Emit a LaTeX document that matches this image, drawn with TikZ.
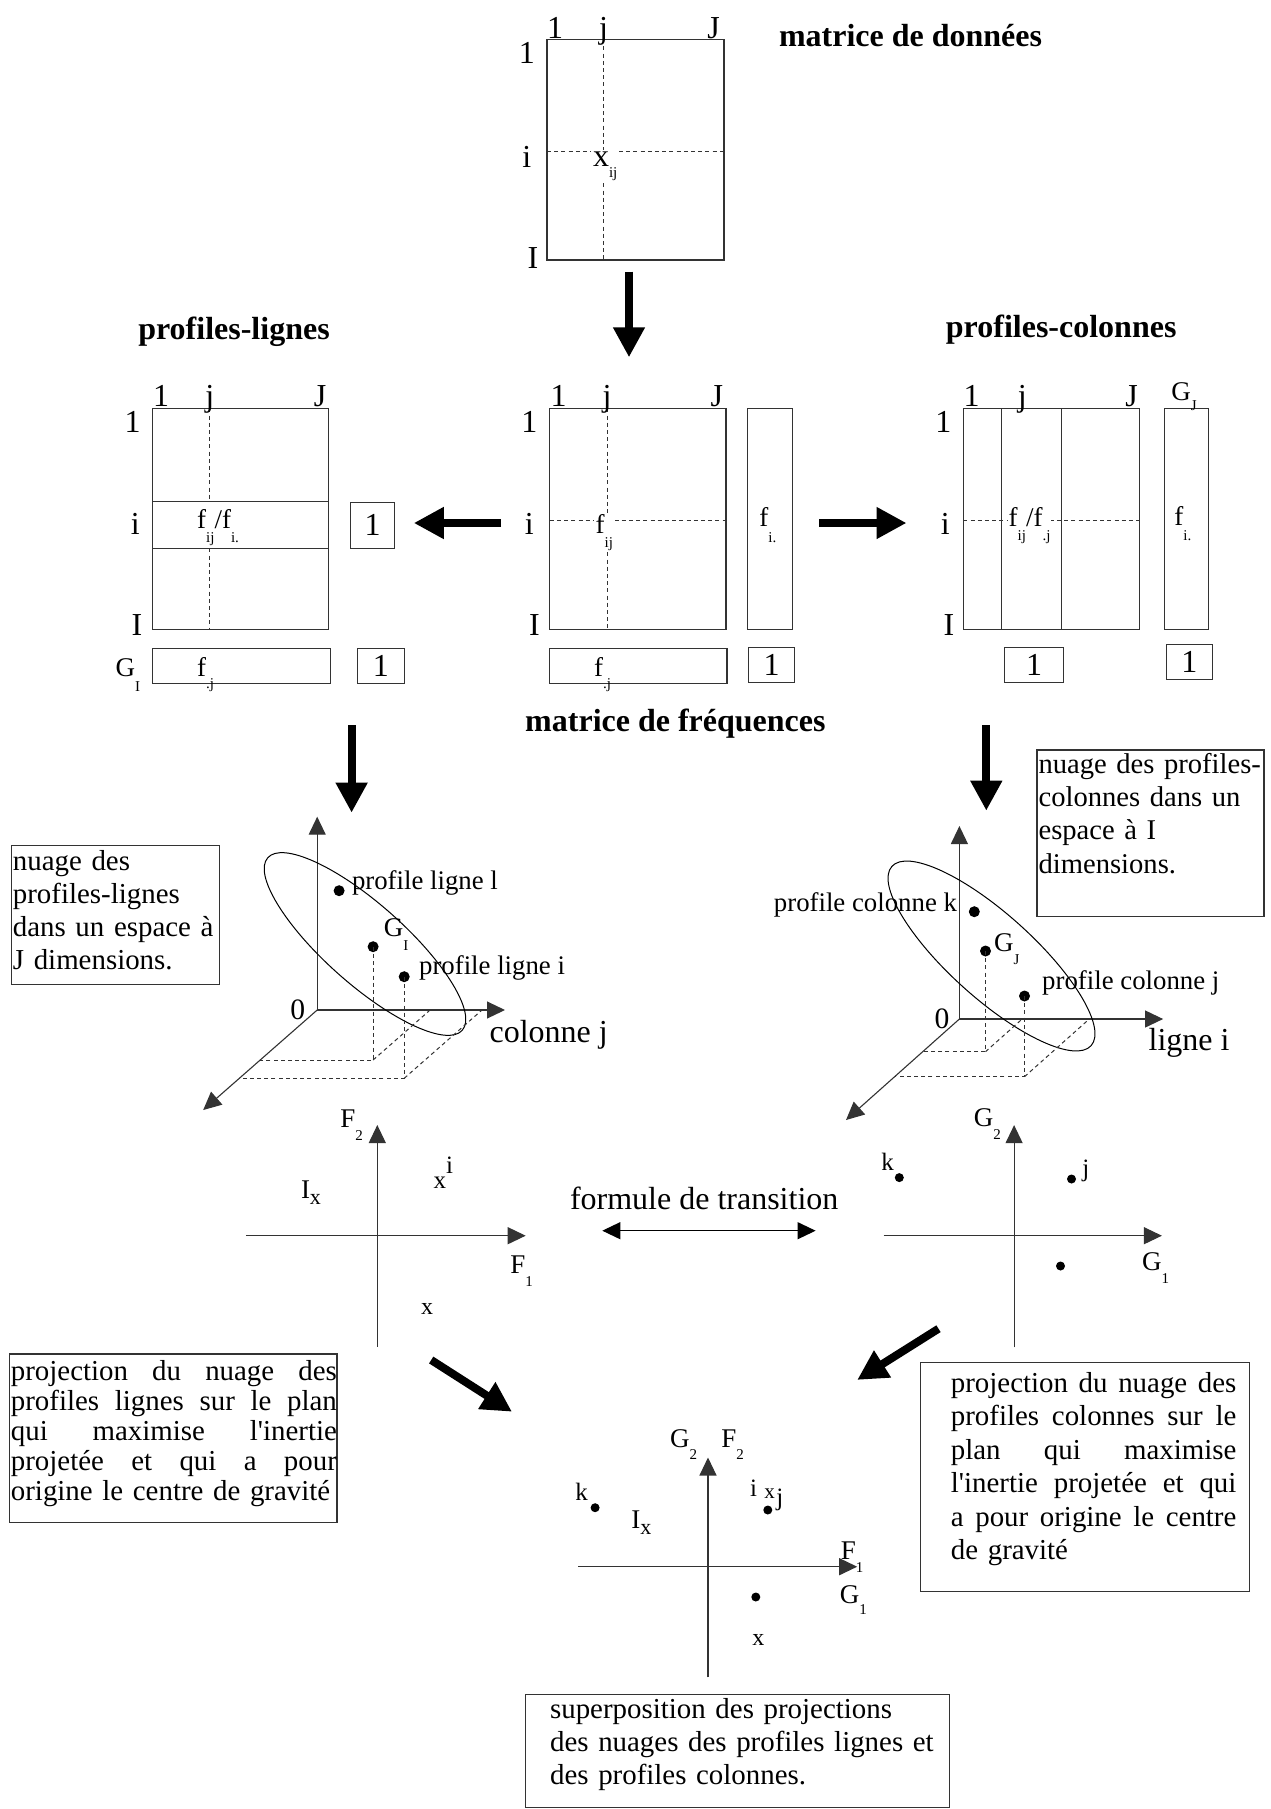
\documentclass[tikz,border=0pt]{standalone}
\usepackage{fontspec}
\setmainfont{Liberation Serif}[Ligatures=TeXOff]
\usetikzlibrary{arrows.meta,fit}

\newcommand\fsBody{\fontsize{14.45}{16.65}\selectfont}
\newcommand\fsBig{\fontsize{16}{18}\selectfont}
\newcommand\fsMid{\fontsize{13.5}{15}\selectfont}
\newcommand\fsSmall{\fontsize{13.4}{15}\selectfont}
\newcommand\fsLab{\fontsize{12.5}{14}\selectfont}
\newcommand\fsTiny{\fontsize{7.5}{8}\selectfont}
\newcommand\lsub[2][7pt]{\raisebox{-#1}{\fsTiny #2}}
% a justified line: words separated by \hfill fill the given width
\newcommand\jl[2]{\makebox[#1][s]{#2}}

\tikzset{
  boxline/.style={draw=black!80, line width=0.55pt, inner sep=0pt},
  dashln/.style={draw=black!80, line width=0.5pt, dash pattern=on 2pt off 1.6pt},
  bigarrow/.style={line width=4pt, -{Triangle[length=15pt,width=15pt]}},
  axisarrow/.style={draw=black!80, line width=0.55pt, -{Triangle[length=9pt,width=8.5pt]}},
  twoway/.style={draw=black, line width=0.55pt, {Triangle[length=9pt,width=8.5pt]}-{Triangle[length=9pt,width=8.5pt]}},
  toplbl/.style={anchor=base, inner sep=0pt, font=\fsBig},
  sidelbl/.style={inner sep=0pt, font=\fsBig},
  celltext/.style={anchor=base west, inner sep=0.8pt, fill=white, font=\fsMid},
  plain/.style={anchor=base west, inner sep=0pt},
  headline/.style={inner sep=0pt, font=\bfseries\fsBig},
  ptdot/.style={circle, fill=black, inner sep=0pt, minimum size=5.5pt},
  smalldot/.style={circle, fill=black, inner sep=0pt, minimum size=4.5pt},
  textblock/.style={anchor=base west, inner sep=0pt, align=left, font=\fsBody},
  unitlbl/.style={inner sep=0pt, font=\fsBig},
}

\begin{document}
\begin{tikzpicture}[x=0.5pt,y=-0.5pt]
\path[use as bounding box] (0,0) rectangle (1270,1809);

% ---------- data matrix ----------
\node[boxline, fit={(547,39.3)(724,260)}] (dataM) {};
\draw[dashln] (603.6,39.3) -- (603.6,260);
\draw[dashln] (547,151.7) -- (724,151.7);
\node[celltext, font=\fsBig] (xij) at (591,166.7) {x\lsub[5.5pt]{ij}};
\node[toplbl] (d1) at (555,38.3) {1};
\node[toplbl] (dj) at (603.6,38.3) {j};
\node[toplbl] (dJ) at (713.6,38.3) {J};
\node[sidelbl] (dr1) at (526.8,53) {1};
\node[sidelbl] (dri) at (526.8,157) {i};
\node[sidelbl] (drI) at (533,258) {I};
\node[headline, anchor=west] (tData) at (778.6,36) {matrice de données};

\coordinate (aDs) at (629,271.7);
\coordinate (aDe) at (629,357.3);
\draw[bigarrow] (aDs) -- (aDe);

% ---------- row profiles ----------
\node[headline] (tRow) at (234,331.7) {profiles-lignes};
\node[boxline, fit={(152.4,408.3)(328.9,629.3)}] (rowM) {};
\draw[dashln] (209.8,408.3) -- (209.8,501.7);
\draw[dashln] (209.8,548.3) -- (209.8,629.3);
\node[boxline, fit={(152.4,501.7)(328.9,548.3)}] (rowBand) {};
\node[plain, font=\fsMid] (fRow) at (196.8,528) {f\lsub{ij}/f\lsub{i.}};
\node[boxline, fit={(350.7,502.3)(394.7,548.3)}] (oneRow) {};
\node[unitlbl] (oneRowT) at (oneRow.center) {1};
\node[toplbl] (r1) at (161.2,406.7) {1};
\node[toplbl] (rj) at (209.8,406.7) {j};
\node[toplbl] (rJ) at (320,406.7) {J};
\node[sidelbl] (rr1) at (132.5,421.7) {1};
\node[sidelbl] (rri) at (135.2,524) {i};
\node[sidelbl] (rrI) at (137,625) {I};
\node[boxline, fit={(152.4,648.3)(330.4,683.3)}] (gRow) {};
\node[plain, font=\fsMid] (fdjRow) at (196.8,676.7) {f\lsub[6pt]{.j}};
\node[plain, font=\fsMid] (GI) at (115.3,676.7) {G\lsub[7.5pt]{I}};
\node[boxline, fit={(357.6,648.3)(404.2,683.3)}] (oneRow2) {};
\node[unitlbl] (oneRow2T) at (oneRow2.center) {1};

% ---------- frequency matrix ----------
\node[boxline, fit={(549.7,408.3)(726,629.3)}] (freqM) {};
\draw[dashln] (607,408.3) -- (607,629.3);
\draw[dashln] (549.7,520.7) -- (726,520.7);
\node[celltext] (fij) at (593.7,533.3) {f\lsub{ij}};
\node[toplbl] (m1) at (558.5,406.7) {1};
\node[toplbl] (mj) at (607,406.7) {j};
\node[toplbl] (mJ) at (716.9,406.7) {J};
\node[sidelbl] (mr1) at (529.4,421.7) {1};
\node[sidelbl] (mri) at (529.4,524) {i};
\node[sidelbl] (mrI) at (534.4,625) {I};
\node[boxline, fit={(747.7,408.3)(792.1,629.3)}] (fiBox) {};
\node[plain, font=\fsMid] (fiLbl) at (759,526.7) {f\lsub[8pt]{i.}};
\node[boxline, fit={(549.7,648.3)(727,683.3)}] (fjBox) {};
\node[plain, font=\fsMid] (fjLbl) at (593.7,676.7) {f\lsub[6pt]{.j}};
\node[boxline, fit={(748.5,647.7)(794.7,682.3)}] (oneMid) {};
\node[unitlbl] (oneMidT) at (oneMid.center) {1};
\node[headline] (tFreq) at (675.4,724) {matrice de fréquences};

\coordinate (aLs) at (501,523);
\coordinate (aLe) at (413.8,523);
\draw[bigarrow] (aLs) -- (aLe);
\coordinate (aRs) at (819.2,523);
\coordinate (aRe) at (906.5,523);
\draw[bigarrow] (aRs) -- (aRe);

% ---------- column profiles ----------
\node[headline] (tCol) at (1061.2,330) {profiles-colonnes};
\node[boxline, fit={(963.3,408.3)(1139.7,629.3)}] (colM) {};
\node[boxline, fit={(1001.7,408.3)(1061.1,629.3)}] (colBand) {};
\draw[dashln] (963.3,520.7) -- (1139.7,520.7);
\node[celltext, inner sep=0.5pt] (fCol) at (1007.3,526) {f\lsub{ij}/f\lsub{.j}};
\node[toplbl] (c1) at (971.6,406.7) {1};
\node[toplbl] (cj) at (1022.4,406.7) {j};
\node[toplbl] (cJ) at (1131.5,406.7) {J};
\node[sidelbl] (cr1) at (943.4,421.7) {1};
\node[sidelbl] (cri) at (945.2,524) {i};
\node[sidelbl] (crI) at (949,625) {I};
\node[boxline, fit={(1164.6,408.3)(1208.6,629.3)}] (gColBox) {};
\node[plain, font=\fsMid] (GJ) at (1171,400) {G\lsub[5pt]{J}};
\node[plain, font=\fsMid] (fiCol) at (1174,525) {f\lsub[7.5pt]{i.}};
\node[boxline, fit={(1004.7,647.7)(1063.7,682.3)}] (oneCol) {};
\node[unitlbl] (oneColT) at (oneCol.center) {1};
\node[boxline, fit={(1166.1,644.3)(1212.7,679.3)}] (oneCol2) {};
\node[unitlbl] (oneCol2T) at (oneCol2.center) {1};

\coordinate (aDLs) at (351.6,725);
\coordinate (aDLe) at (351.6,812.7);
\draw[bigarrow] (aDLs) -- (aDLe);
\coordinate (aDRs) at (986.3,725);
\coordinate (aDRe) at (986.3,810.7);
\draw[bigarrow] (aDRs) -- (aDRe);

% ---------- cloud of row profiles ----------
\node[boxline, fit={(11.2,845.7)(219.7,984.3)}] (nuageLbox) {};
\node[textblock, text width=120pt] (nuageLtxt) at (12.5,870) {nuage des\\profiles-lignes\\dans un espace à\\J dimensions.};

\coordinate (O1) at (317.2,1010);
\coordinate (O1y) at (317.2,816.7);
\coordinate (O1x) at (505,1010);
\coordinate (O1z) at (203.2,1110);
\draw[axisarrow] (O1) -- (O1y);
\draw[axisarrow] (O1) -- (O1x);
\draw[axisarrow] (O1) -- (O1z);
\node[sidelbl, font=\fontsize{14.8}{16}\selectfont] (zero1) at (297.7,1010) {0};
\draw[line width=0.5pt, rotate around={-41.6:(365,944)}] (365,944) ellipse [x radius=65pt, y radius=20pt];
\node[ptdot] (pl) at (339.1,890.7) {};
\node[ptdot] (gI) at (373.1,946.7) {};
\node[ptdot] (pi) at (404.2,976.7) {};
\draw[dashln] (gI.center) -- (373.1,1060) -- (260.2,1060);
\draw[dashln] (373.1,1060) -- (430.1,1010);
\draw[dashln] (pi.center) -- (404.2,1078.3) -- (239.3,1078.3);
\draw[dashln] (404.2,1078.3) -- (482,1010);
\node[anchor=west, inner sep=0pt, font=\fsSmall] (plLbl) at (351.6,883.3) {profile ligne l};
\node[plain, font=\fsMid] (gILbl) at (383.5,936) {G\lsub{I}};
\node[anchor=west, inner sep=0pt, font=\fsSmall] (piLbl) at (418.7,968.3) {profile ligne i};
\node[anchor=west, inner sep=0pt, font=\fsBig] (colj) at (489.2,1035) {colonne j};

% ---------- cloud of column profiles ----------
\node[boxline, fit={(1037,750)(1264,916.7)}] (nuageRbox) {};
\node[textblock, text width=130pt, font=\fontsize{14.3}{16.65}\selectfont] (nuageRtxt) at (1038.2,773.3) {nuage des profiles-\\colonnes dans un\\espace à I\\dimensions.};

\coordinate (O2) at (959.4,1019);
\coordinate (O2y) at (959.4,826);
\coordinate (O2x) at (1163.1,1019);
\coordinate (O2z) at (846,1120);
\draw[axisarrow] (O2) -- (O2y);
\draw[axisarrow] (O2) -- (O2x);
\draw[axisarrow] (O2) -- (O2z);
\node[sidelbl, font=\fontsize{14.8}{16}\selectfont] (zero2) at (942,1019) {0};
\draw[line width=0.5pt, rotate around={-42:(991.5,956)}] (991.5,956) ellipse [x radius=67pt, y radius=21pt];
\node[ptdot] (pk) at (974.3,911.7) {};
\node[ptdot] (gJ) at (985.5,951) {};
\node[ptdot] (pj) at (1024.5,996) {};
\draw[dashln] (gJ.center) -- (985.5,1051.7) -- (922.7,1051.7);
\draw[dashln] (985.5,1051.7) -- (1022.2,1019);
\draw[dashln] (pj.center) -- (1024.5,1076.7) -- (894.6,1076.7);
\draw[dashln] (1024.5,1076.7) -- (1089.3,1019);
\node[anchor=east, inner sep=0pt, font=\fsSmall] (pkLbl) at (957.4,905) {profile colonne k};
\node[plain, font=\fsMid] (gJLbl) at (993.6,951.7) {G\lsub[6.5pt]{J}};
\node[anchor=west, inner sep=0pt, font=\fsSmall] (pjLbl) at (1041.8,983.3) {profile colonne j};
\node[anchor=west, inner sep=0pt, font=\fsBig] (lignei) at (1148.2,1043.3) {ligne i};

% ---------- factorial plane of rows ----------
\coordinate (Fv0) at (377.3,1346.7);
\coordinate (Fv1) at (377.3,1125);
\coordinate (Fh0) at (245.9,1235.7);
\coordinate (Fh1) at (525.7,1235.7);
\draw[axisarrow] (Fv0) -- (Fv1);
\draw[axisarrow] (Fh0) -- (Fh1);
\node[plain, font=\fsMid] (F2) at (340,1127) {F\lsub[6.5pt]{2}};
\node[plain, font=\fsMid] (F1) at (510,1273.3) {F\lsub[6.5pt]{1}};
\node[plain, font=\fsMid] (Ix) at (300.6,1198.3) {I\raisebox{-3pt}{\fontsize{11}{12}\selectfont x}};
\node[plain, font=\fsLab] (xi) at (433.3,1188.3) {x\raisebox{7.5pt}{i}};
\node[plain, font=\fontsize{12}{14}\selectfont] (xlow) at (420.8,1314) {x};

% ---------- transition formula ----------
\node[inner sep=0pt, font=\fsBig] (formule) at (704.2,1198.6) {formule de transition};
\coordinate (tw0) at (602.3,1230.7);
\coordinate (tw1) at (815.6,1230.7);
\draw[twoway] (tw0) -- (tw1);

% ---------- factorial plane of columns ----------
\coordinate (Gv0) at (1014.1,1347.3);
\coordinate (Gv1) at (1014.1,1125.1);
\coordinate (Gh0) at (883.5,1235.7);
\coordinate (Gh1) at (1161.9,1235.7);
\draw[axisarrow] (Gv0) -- (Gv1);
\draw[axisarrow] (Gh0) -- (Gh1);
\node[plain, font=\fsMid] (G2) at (973.4,1126) {G\lsub[6.5pt]{2}};
\node[plain, font=\fsMid] (G1) at (1141.8,1270) {G\lsub[6.5pt]{1}};
\node[smalldot] (gk) at (899.3,1177.6) {};
\node[plain, font=\fsLab] (gkLbl) at (881,1170.7) {k};
\node[smalldot] (gj) at (1071.5,1179) {};
\node[plain, font=\fsLab] (gjLbl) at (1082,1176.5) {j};
\node[smalldot] (gx) at (1060.5,1266) {};

% ---------- projection boxes and arrows ----------
\node[boxline, fit={(9.1,1354)(337,1522.6)}] (projLbox) {};
\node[textblock, text width=170pt, font=\fontsize{14.45}{15.1}\selectfont] (projLtxt) at (10.5,1380) {%
\jl{163pt}{projection\hfill du\hfill nuage\hfill des}\\
\jl{163pt}{profiles\hfill lignes\hfill sur\hfill le\hfill plan}\\
\jl{163pt}{qui\hfill maximise\hfill l'inertie}\\
\jl{163pt}{projetée\hfill et\hfill qui\hfill a\hfill pour}\\
origine le centre de gravité};

\node[boxline, fit={(920.3,1362.2)(1249.4,1591.4)}] (projRbox) {};
\node[textblock, text width=150pt, font=\fontsize{14.45}{16.7}\selectfont] (projRtxt) at (950.5,1392.5) {%
\jl{142.75pt}{projection\hfill du\hfill nuage\hfill des}\\
\jl{142.75pt}{profiles\hfill colonnes\hfill sur\hfill le}\\
\jl{142.75pt}{plan\hfill qui\hfill maximise}\\
\jl{142.75pt}{l'inertie\hfill projetée\hfill et\hfill qui}\\
\jl{142.75pt}{a\hfill pour\hfill origine\hfill le\hfill centre}\\
de gravité};

\coordinate (aPLs) at (431.2,1360);
\coordinate (aPLe) at (512,1411.7);
\draw[bigarrow] (aPLs) -- (aPLe);
\coordinate (aPRs) at (938.5,1328.7);
\coordinate (aPRe) at (857.2,1379.9);
\draw[bigarrow] (aPRs) -- (aPRe);

% ---------- superposition ----------
\coordinate (Sv0) at (708,1677.4);
\coordinate (Sv1) at (708,1457.5);
\coordinate (Sh0) at (578.4,1566.7);
\coordinate (Sh1) at (857.2,1566.7);
\draw[axisarrow] (Sv0) -- (Sv1);
\draw[axisarrow] (Sh0) -- (Sh1);
\node[plain, font=\fsMid] (SG2) at (669.7,1447) {G\lsub[6pt]{2}};
\node[plain, font=\fsMid] (SF2) at (720.9,1447) {F\lsub[6pt]{2}};
\node[plain, font=\fsLab] (Si) at (749.6,1496) {i};
\node[plain, font=\fontsize{10.5}{12}\selectfont] (Sx) at (764,1498) {x};
\node[plain, font=\fsLab] (Sj) at (776,1505) {j};
\node[smalldot] (Sjd) at (767.8,1510) {};
\node[plain, font=\fsLab] (Sk) at (575,1500.7) {k};
\node[smalldot] (Skd) at (595.1,1507.7) {};
\node[plain, font=\fsMid] (SIx) at (631,1528.6) {I\raisebox{-3pt}{\fontsize{11}{12}\selectfont x}};
\node[plain, font=\fsMid] (SF1) at (840.5,1559) {F\lsub[6.5pt]{1}};
\node[plain, font=\fsMid] (SG1) at (839.5,1603) {G\lsub[5.5pt]{1}};
\node[smalldot] (Sxd) at (755.8,1597) {};
\node[plain, font=\fontsize{12}{14}\selectfont] (Sxl) at (752,1645) {x};

\node[boxline, fit={(525.7,1694.6)(949.5,1807.6)}] (superBox) {};
\node[textblock, text width=220pt, font=\fontsize{14.45}{16.5}\selectfont] (superTxt) at (549.7,1718) {superposition des projections\\des nuages des profiles lignes et\\des profiles colonnes.};

\end{tikzpicture}
\end{document}
